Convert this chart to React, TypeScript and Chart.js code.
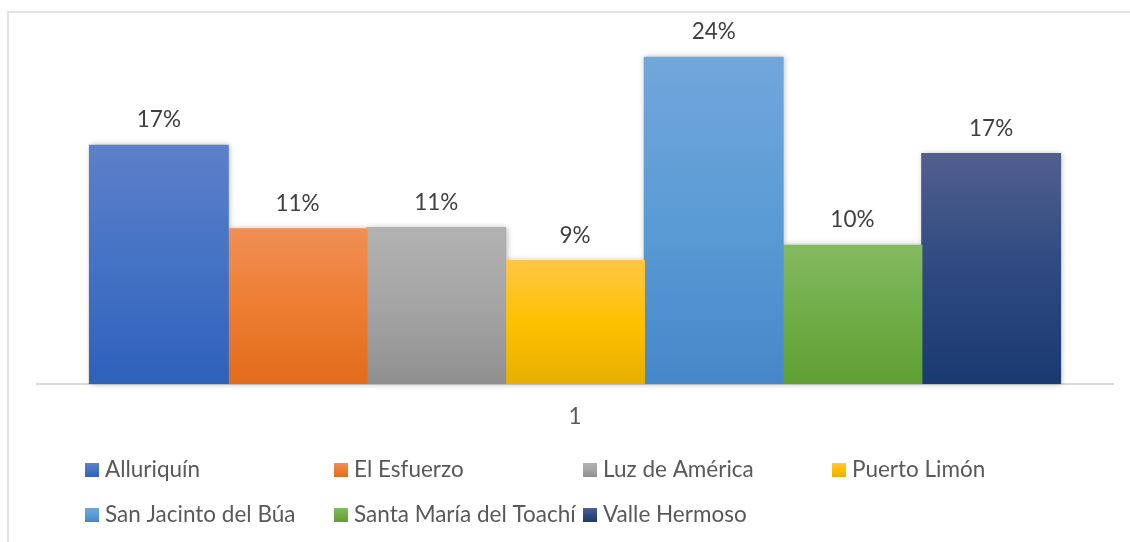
import React, { useEffect, useRef } from "react";
import { Chart, registerables } from "chart.js";

Chart.register(...registerables);

const categories = ["1"];
const seriesNames = [
  "Alluriquín",
  "El Esfuerzo",
  "Luz de América",
  "Puerto Limón",
  "San Jacinto del Búa",
  "Santa María del Toachí",
  "Valle Hermoso",
];
const seriesValues = [0.174, 0.113, 0.114, 0.09, 0.238, 0.101, 0.168];
// gradient stops: top, middle, bottom
const seriesColors = [
  ["#5d80c9", "#4472c4", "#2f61bb"],
  ["#f08f56", "#ed7d31", "#e36b1c"],
  ["#b2b2b2", "#a5a5a5", "#8f8f8f"],
  ["#ffc744", "#ffc000", "#e7b000"],
  ["#71a7db", "#5b9bd5", "#4588c9"],
  ["#84ba60", "#70ad47", "#5f9f34"],
  ["#515f8e", "#2e4a80", "#1b3a72"],
];

const FONT = "Lato, 'Open Sans', sans-serif";
const FS = 22.5;

function makeGrad(ctx: CanvasRenderingContext2D, top: number, bottom: number, cols: string[]) {
  const g = ctx.createLinearGradient(0, top, 0, bottom);
  g.addColorStop(0, cols[0]);
  g.addColorStop(0.5, cols[1]);
  g.addColorStop(1, cols[2]);
  return g;
}

const decorPlugin = {
  id: "decor",
  beforeDraw(chart: any) {
    const ctx = chart.ctx;
    ctx.save();
    ctx.strokeStyle = "#d9d9d9";
    ctx.lineWidth = 1.5;
    ctx.beginPath();
    ctx.moveTo(8, 600);
    ctx.lineTo(8, 12);
    ctx.lineTo(1200, 12);
    ctx.stroke();
    ctx.restore();
  },
  beforeDatasetsDraw(chart: any) {
    // shadow pass: draw shadows of all bars behind them (only visible outside the bar silhouettes)
    const ctx = chart.ctx;
    ctx.save();
    ctx.shadowColor = "rgba(0,0,0,0.3)";
    ctx.shadowBlur = 6;
    ctx.shadowOffsetX = 1;
    ctx.shadowOffsetY = 0;
    ctx.fillStyle = "#ffffff";
    chart.data.datasets.forEach((_ds: any, i: number) => {
      const meta = chart.getDatasetMeta(i);
      meta.data.forEach((el: any) => {
        const w = el.width;
        ctx.fillRect(el.x - w / 2, el.y, w, el.base - el.y);
      });
    });
    ctx.restore();
  },
  afterDatasetsDraw(chart: any) {
    const ctx = chart.ctx;
    ctx.save();
    ctx.font = `${FS}px ${FONT}`;
    ctx.fillStyle = "#404040";
    ctx.textAlign = "center";
    ctx.textBaseline = "alphabetic";
    chart.data.datasets.forEach((ds: any, i: number) => {
      const meta = chart.getDatasetMeta(i);
      meta.data.forEach((el: any, j: number) => {
        const v = ds.data[j];
        ctx.fillText(Math.round(v * 100) + "%", el.x, el.y - 18);
      });
    });
    ctx.restore();
  },
  afterDraw(chart: any) {
    const ctx = chart.ctx;
    ctx.save();
    ctx.font = `${FS}px ${FONT}`;
    ctx.textAlign = "left";
    ctx.textBaseline = "alphabetic";
    chart.data.datasets.forEach((ds: any, i: number) => {
      const col = i % 4;
      const row = Math.floor(i / 4);
      const x = 85 + col * 249;
      const base = 477 + row * 45;
      ctx.fillStyle = makeGrad(ctx, base - 14, base, seriesColors[i]);
      ctx.fillRect(x, base - 14, 14, 14);
      ctx.fillStyle = "#595959";
      ctx.fillText(ds.label, x + 20, base);
    });
    ctx.restore();
  },
};

export default function App() {
  const ref = useRef<HTMLCanvasElement>(null);
  useEffect(() => {
    if (!ref.current) return;
    const chart = new Chart(ref.current, {
      type: "bar",
      data: {
        labels: categories,
        datasets: seriesNames.map((name, i) => ({
          label: name,
          data: [seriesValues[i]],
          backgroundColor: (c: any) => {
            const ch = c.chart;
            const area = ch.chartArea;
            if (!area || !ch.scales || !ch.scales.y || c.raw == null) return seriesColors[i][1];
            const top = ch.scales.y.getPixelForValue(c.raw);
            const bottom = ch.scales.y.getPixelForValue(0);
            return makeGrad(ch.ctx, top, bottom, seriesColors[i]);
          },
          borderWidth: 0,
          inflateAmount: 0.6,
          categoryPercentage: 0.9024,
          barPercentage: 1,
        })),
      },
      plugins: [decorPlugin],
      options: {
        responsive: false,
        animation: false,
        layout: { padding: { left: 37, right: 17, top: 41, bottom: 0 } },
        plugins: { legend: { display: false }, tooltip: { enabled: false } },
        scales: {
          x: {
            grid: { display: false, drawTicks: false },
            border: { display: true, color: "#d9d9d9", width: 2 },
            ticks: { color: "#595959", font: { family: FONT, size: FS }, padding: 19 },
            afterFit: (s: any) => {
              s.height = 542 - 384;
            },
          },
          y: { display: false, min: 0, max: 0.25 },
        },
      },
    } as any);
    return () => chart.destroy();
  }, []);
  return (
    <div style={{ position: "fixed", left: 0, top: 0, width: 1130, height: 542, background: "#fff" }}>
      <canvas ref={ref} width={1130} height={542} style={{ width: 1130, height: 542 }} />
    </div>
  );
}
